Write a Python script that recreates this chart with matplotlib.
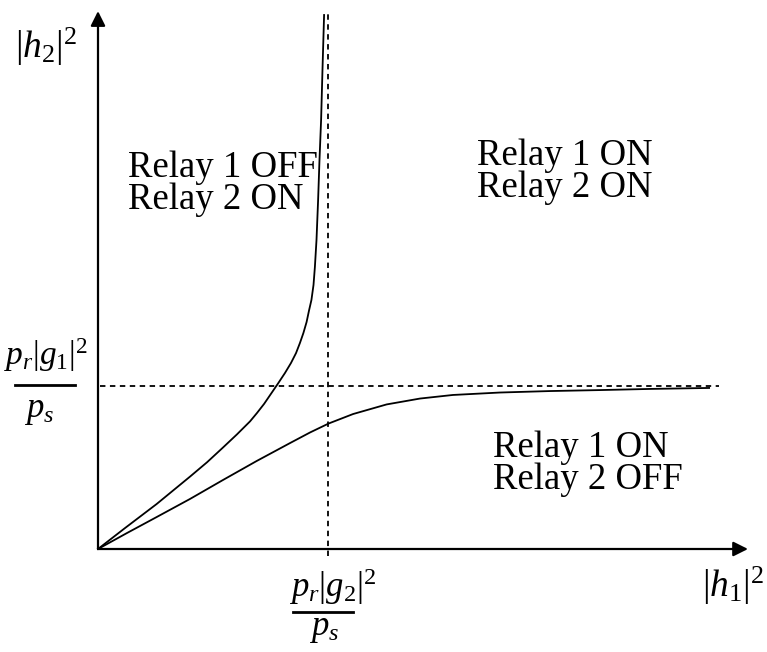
import matplotlib
matplotlib.use('Agg')
import matplotlib.pyplot as plt

# curves, in units of the two thresholds
# (x: |h1|^2 / (p_r|g_2|^2/p_s), y: |h2|^2 / (p_r|g_1|^2/p_s))
upper_x = [0.0, 0.117, 0.255, 0.40, 0.474, 0.543, 0.604, 0.661, 0.691, 0.722,
           0.752, 0.783, 0.813, 0.839, 0.861, 0.878, 0.893, 0.907, 0.917, 0.928,
           0.937, 0.943, 0.950, 0.957, 0.963, 0.970, 0.976, 0.983]
upper_y = [0.0, 0.128, 0.276, 0.444, 0.532, 0.622, 0.703, 0.783, 0.834, 0.890,
           0.952, 1.016, 1.080, 1.141, 1.202, 1.264, 1.325, 1.393, 1.460, 1.528,
           1.620, 1.730, 1.896, 2.141, 2.387, 2.632, 2.939, 3.276]

lower_x = [0.0, 0.126, 0.255, 0.40, 0.543, 0.690, 0.835, 0.922, 1.003, 1.109,
           1.255, 1.40, 1.543, 1.748, 1.965, 2.183, 2.40, 2.657]
lower_y = [0.0, 0.098, 0.196, 0.307, 0.423, 0.540, 0.650, 0.715, 0.770, 0.828,
           0.887, 0.923, 0.945, 0.960, 0.969, 0.975, 0.982, 0.988]

x_thresh = 1.0
y_thresh = 1.0

region_labels = [
    (['Relay 1 OFF', 'Relay 2 ON'], (128, 177)),
    (['Relay 1 ON', 'Relay 2 ON'], (477, 165)),
    (['Relay 1 ON', 'Relay 2 OFF'], (493, 457)),
]

W, H = 767, 652
plt.rcParams['mathtext.fontset'] = 'custom'
plt.rcParams['mathtext.rm'] = 'Liberation Serif'
plt.rcParams['mathtext.it'] = 'Liberation Serif:italic'
plt.rcParams['mathtext.bf'] = 'Liberation Serif:bold'
fig = plt.figure(figsize=(W / 100, H / 100), dpi=100)
ax = fig.add_axes([0, 0, 1, 1])
ax.axis('off')

# pixel origin of the axes at (98, 549), 230 px per x unit, 163 px per y unit
x0, y0, sx, sy = 98, 549, 230, 163
ax.set_xlim(-x0 / sx, (W - x0) / sx)
ax.set_ylim(-(H - y0) / sy, y0 / sy)


def px(x, y):
    return x / W, 1 - y / H


# axes with arrows
arrow = dict(arrowstyle='-|>', lw=1.6, color='black', mutation_scale=22,
             shrinkA=0, shrinkB=0)
ax.annotate('', xy=(2.826, 0), xytext=(0, 0), arrowprops=arrow)
ax.annotate('', xy=(0, 3.30), xytext=(0, 0), arrowprops=arrow)

# threshold lines
ax.plot([0.01, 2.70], [y_thresh, y_thresh], color='black', lw=1.3,
        linestyle=(0, (3, 2.5)))
ax.plot([x_thresh, x_thresh], [-0.04, 3.30], color='black', lw=1.3,
        linestyle=(0, (3, 2.5)))

ax.plot(upper_x, upper_y, color='black', lw=1.3)
ax.plot(lower_x, lower_y, color='black', lw=1.3)

for lines, (lx, ly) in region_labels:
    for i, s in enumerate(lines):
        fig.text(*px(lx, ly + 32 * i), s, fontsize=26.5, family='Liberation Serif',
                 va='baseline', ha='left')

# axis labels
fig.text(*px(15, 58), r'$\mathit{|h}_{2}\mathit{|}^{2}$', fontsize=27,
         va='baseline', ha='left')
fig.text(*px(702, 597), r'$\mathit{|h}_{\mathit{1}}\mathit{|}^{2}$', fontsize=27,
         va='baseline', ha='left')

# threshold labels as stacked fractions
fracs = [
    (r'$\mathit{p}_{r}\mathit{|g}_{\mathit{1}}\mathit{|}^{2}$', 24, 46, 45, 365, 385, 39, 417),
    (r'$\mathit{p}_{r}\mathit{|g}_{2}\mathit{|}^{2}$', 25, 333, 323, 597, 612, 324, 635),
]
for num, fs, nx, bx, nb, by, dx, db in fracs:
    fig.text(*px(nx, nb), num, fontsize=fs, va='baseline', ha='center')
    fig.lines.append(plt.Line2D([(bx - 30) / W, (bx + 30) / W],
                                [1 - by / H, 1 - by / H], color='black', lw=2,
                                transform=fig.transFigure))
    fig.text(*px(dx, db), r'$p_s$', fontsize=25, va='baseline', ha='center')

fig.savefig('out.png', dpi=100)
